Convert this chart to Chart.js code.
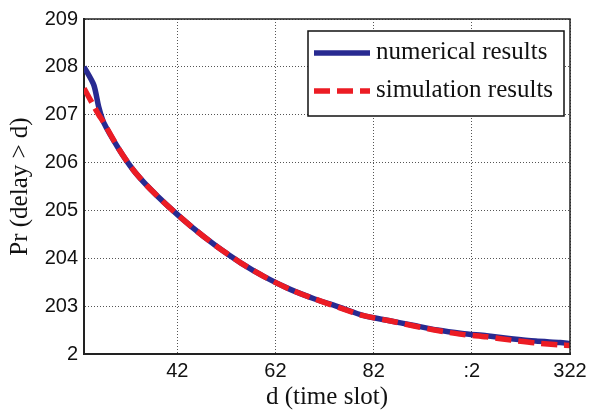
<!DOCTYPE html>
<html>
<head>
<meta charset="utf-8">
<script src="https://cdn.jsdelivr.net/npm/chart.js@4/dist/chart.umd.min.js"></script>
<style>
  html, body { margin: 0; padding: 0; background: #fff; }
  #wrap { width: 592px; height: 419px; position: relative; }
</style>
</head>
<body>
<div id="wrap"><canvas id="grafico"></canvas></div>
<script>
// ============================
// DADOS
// ============================
const dSlots = [23, 25, 26, 27, 30, 33, 36, 40, 45, 50, 55, 60, 65, 70, 75, 80, 85, 90, 95, 100, 105, 110, 115, 120, 122];
const numerical = [208.0, 207.62, 207.16, 206.84, 206.3, 205.85, 205.5, 205.1, 204.65, 204.25, 203.9, 203.6, 203.35, 203.15, 202.98, 202.8, 202.7, 202.6, 202.5, 202.43, 202.38, 202.32, 202.27, 202.24, 202.22];
const simulation = [207.55, 207.18, 207.0, 206.84, 206.3, 205.85, 205.5, 205.1, 204.65, 204.25, 203.9, 203.6, 203.35, 203.15, 202.97, 202.8, 202.7, 202.59, 202.49, 202.41, 202.36, 202.29, 202.23, 202.19, 202.18];

const xTicks = [42, 62, 82, 102, 122];
const xTickLabels = ["42", "62", "82", ":2", "322"];
const yTicks = [202, 203, 204, 205, 206, 207, 208, 209];
const yTickLabels = ["2", "203", "204", "205", "206", "207", "208", "209"];

const serieNomes = ["numerical results", "simulation results"];

function pontos(ys) {
    return dSlots.map((x, i) => ({ x: x, y: ys[i] }));
}

// ============================
// PLUGINS (moldura + legenda)
// ============================
const moldura = {
    id: "moldura",
    afterDraw(chart) {
        const { ctx, chartArea: a } = chart;
        ctx.save();
        ctx.strokeStyle = "#222";
        ctx.lineWidth = 1.5;
        ctx.beginPath();
        ctx.moveTo(a.left, a.top);
        ctx.lineTo(a.right, a.top);
        ctx.lineTo(a.right, a.bottom);
        ctx.stroke();
        ctx.restore();
    }
};

const legendaBox = {
    id: "legendaBox",
    afterDraw(chart) {
        const ctx = chart.ctx;
        const ds = chart.data.datasets;
        const x0 = 308, y0 = 31, w = 256, h = 85;
        ctx.save();
        ctx.fillStyle = "#fff";
        ctx.fillRect(x0, y0, w, h);
        ctx.strokeStyle = "#111";
        ctx.lineWidth = 1.5;
        ctx.strokeRect(x0, y0, w, h);
        const linhasY = [53, 91];
        ds.forEach((d, i) => {
            ctx.beginPath();
            ctx.strokeStyle = d.borderColor;
            ctx.lineWidth = d.borderWidth;
            ctx.setLineDash(d.borderDash || []);
            ctx.moveTo(314, linhasY[i]);
            ctx.lineTo(370, linhasY[i]);
            ctx.stroke();
            ctx.setLineDash([]);
            ctx.fillStyle = "#111";
            ctx.font = "25px 'Liberation Serif', 'Times New Roman', serif";
            ctx.textBaseline = "middle";
            ctx.fillText(d.label, 376, linhasY[i] - 1);
        });
        ctx.restore();
    }
};

// ============================
// GRAFICO
// ============================
const grade = {
    color: "#555",
    lineWidth: 1,
    drawTicks: false
};

new Chart(document.getElementById("grafico"), {
    type: "line",
    data: {
        datasets: [{
            label: serieNomes[0],
            data: pontos(numerical),
            borderColor: "rgb(40, 42, 145)",
            borderWidth: 5.5,
            pointRadius: 0,
            tension: 0.25,
            fill: false,
            order: 1
        }, {
            label: serieNomes[1],
            data: pontos(simulation),
            borderColor: "rgb(236, 28, 36)",
            borderWidth: 5.5,
            borderDash: [16, 7],
            pointRadius: 0,
            tension: 0.25,
            fill: false,
            order: 0
        }]
    },
    options: {
        responsive: true,
        maintainAspectRatio: false,
        animation: false,
        layout: { padding: { left: 0, right: 22, top: 19, bottom: 0 } },
        plugins: {
            legend: { display: false },
            tooltip: { enabled: false }
        },
        scales: {
            x: {
                type: "linear",
                min: 23,
                max: 122,
                afterBuildTicks: (s) => { s.ticks = xTicks.map(v => ({ value: v })); },
                afterFit: (s) => { s.height = 65; },
                grid: grade,
                border: { display: true, color: "#222", width: 2, dash: [1, 2] },
                ticks: {
                    color: "#111",
                    padding: 5,
                    maxRotation: 0,
                    font: { family: "'Liberation Sans', Arial, sans-serif", size: 20 },
                    callback: (v) => xTickLabels[xTicks.indexOf(v)]
                },
                title: {
                    display: true,
                    text: "d (time slot)",
                    color: "#111",
                    padding: { top: 0, bottom: 7 },
                    font: { family: "'Liberation Serif', 'Times New Roman', serif", size: 25 }
                }
            },
            y: {
                min: 202,
                max: 209,
                afterBuildTicks: (s) => { s.ticks = yTicks.map(v => ({ value: v })); },
                afterFit: (s) => { s.width = 84; },
                grid: grade,
                border: { display: true, color: "#222", width: 2, dash: [1, 2] },
                ticks: {
                    color: "#111",
                    padding: 6,
                    font: { family: "'Liberation Sans', Arial, sans-serif", size: 20 },
                    callback: (v) => yTickLabels[yTicks.indexOf(v)]
                },
                title: {
                    display: true,
                    text: "Pr (delay > d)",
                    color: "#111",
                    padding: { top: 5, bottom: 0 },
                    font: { family: "'Liberation Serif', 'Times New Roman', serif", size: 25 }
                }
            }
        }
    },
    plugins: [moldura, legendaBox]
});
</script>
</body>
</html>
